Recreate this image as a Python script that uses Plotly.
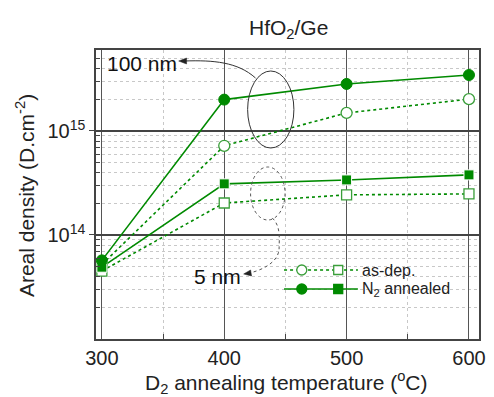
import plotly.graph_objects as go

temps = [300, 400, 500, 600]
asdep_100nm = [5.2e13, 7.2e14, 1.49e15, 2.02e15]
n2_100nm = [5.7e13, 2.0e15, 2.83e15, 3.45e15]
asdep_5nm = [4.5e13, 2.03e14, 2.43e14, 2.48e14]
n2_5nm = [4.9e13, 3.1e14, 3.38e14, 3.78e14]

x_ticks = [300, 400, 500, 600]
x_minor = [350, 450, 550]
y_major = [1e14, 1e15]
y_major_text = ["10<sup>14</sup>", "10<sup>15</sup>"]
y_minor = [m * 10**e for e in (13, 14, 15) for m in range(2, 10) if m * 10**e < 6e15]

GREEN = "#008a00"
LGREEN = "#3a9e3a"
FONT = "Arial, Liberation Sans, sans-serif"

W, H = 494, 397
L, R, T, B = 96, 485, 50, 339


def px(x):
    return (x - L) / (R - L)


def py(y):
    return (B - y) / (B - T)


fig = go.Figure()
fig.add_trace(go.Scatter(x=temps, y=asdep_100nm, mode="lines+markers",
                         line=dict(color=GREEN, width=1.6, dash="3px,3px"),
                         marker=dict(symbol="circle", size=11, color="white",
                                     line=dict(color=LGREEN, width=1.3)),
                         showlegend=False))
fig.add_trace(go.Scatter(x=temps, y=asdep_5nm, mode="lines+markers",
                         line=dict(color=GREEN, width=1.6, dash="3px,3px"),
                         marker=dict(symbol="square", size=10, color="white",
                                     line=dict(color=LGREEN, width=1.3)),
                         showlegend=False))
fig.add_trace(go.Scatter(x=temps, y=n2_5nm, mode="lines+markers",
                         line=dict(color=GREEN, width=1.6),
                         marker=dict(symbol="square", size=10, color=GREEN,
                                     line=dict(color="white", width=1)),
                         showlegend=False))
fig.add_trace(go.Scatter(x=temps, y=n2_100nm, mode="lines+markers",
                         line=dict(color=GREEN, width=1.6),
                         marker=dict(symbol="circle", size=11, color=GREEN,
                                     line=dict(color=GREEN, width=1)),
                         showlegend=False))

shapes = []
# ellipses
shapes.append(dict(type="circle", xref="paper", yref="paper",
                   x0=px(250), x1=px(297), y0=py(148), y1=py(71),
                   line=dict(color="#333", width=1)))
shapes.append(dict(type="circle", xref="paper", yref="paper",
                   x0=px(253), x1=px(288), y0=py(220), y1=py(167),
                   line=dict(color="#555", width=1, dash="dot")))


def pth(cmds):
    out = []
    for c in cmds:
        if isinstance(c, str):
            out.append(c)
        else:
            out.append(f"{px(c[0]):.4f},{py(c[1]):.4f}")
    return " ".join(out)


# 100 nm connector
shapes.append(dict(type="path", xref="paper", yref="paper",
                   path=pth(["M", (258, 78), "C", (240, 62), (215, 60), (186, 61)]),
                   line=dict(color="#333", width=1)))
shapes.append(dict(type="path", xref="paper", yref="paper",
                   path=pth(["M", (180, 61), "L", (188, 58), "L", (188, 64), "Z"]),
                   fillcolor="#222", line=dict(color="#222", width=0.5)))
# 5 nm connector
shapes.append(dict(type="path", xref="paper", yref="paper",
                   path=pth(["M", (275, 218), "C", (284, 226), (282, 240), (282, 248),
                             "C", (282, 262), (265, 270), (252, 273)]),
                   line=dict(color="#555", width=1, dash="dot")))
shapes.append(dict(type="path", xref="paper", yref="paper",
                   path=pth(["M", (246, 274), "L", (253, 270), "L", (254, 276), "Z"]),
                   fillcolor="#222", line=dict(color="#222", width=0.5)))

# legend samples
leg_rows = [(270, "dot", "white", LGREEN, "as-dep."), (289, "solid", GREEN, GREEN, "N<sub>2</sub> annealed")]
for yy, dash, fill, edge, label in leg_rows:
    shapes.append(dict(type="line", xref="paper", yref="paper",
                       x0=px(287), x1=px(362), y0=py(yy), y1=py(yy),
                       line=dict(color=GREEN, width=1.6, dash=dash)))
    shapes.append(dict(type="circle", xref="paper", yref="paper",
                       xsizemode="pixel", ysizemode="pixel",
                       xanchor=px(305), yanchor=py(yy),
                       x0=-5, x1=5, y0=-5, y1=5,
                       fillcolor=fill, line=dict(color=edge, width=1.3)))
    shapes.append(dict(type="rect", xref="paper", yref="paper",
                       xsizemode="pixel", ysizemode="pixel",
                       xanchor=px(342), yanchor=py(yy),
                       x0=-4.5, x1=4.5, y0=-4.5, y1=4.5,
                       fillcolor=fill, line=dict(color=edge, width=1.3)))

annotations = [
    dict(text="HfO<sub>2</sub>/Ge", x=px(292), y=py(29), xref="paper", yref="paper",
         xanchor="center", yanchor="middle",
         showarrow=False, font=dict(size=21, color="#222", family=FONT)),
    dict(text="Areal density (D.cm<sup>-2</sup>)", x=px(24), y=py(196), xref="paper", yref="paper",
         xanchor="center", yanchor="middle",
         textangle=-90, showarrow=False, font=dict(size=21, color="#222", family=FONT)),
    dict(text="D<sub>2</sub> annealing temperature (<sup>o</sup>C)", x=px(289), y=py(382),
         xref="paper", yref="paper", showarrow=False, xanchor="center", yanchor="middle",
         font=dict(size=21, color="#222", family=FONT)),
    dict(text="100 nm", x=px(105), y=py(64), xref="paper", yref="paper", xanchor="left",
         yanchor="middle", showarrow=False, font=dict(size=21, color="#111", family=FONT)),
    dict(text="5 nm", x=px(193), y=py(276), xref="paper", yref="paper", xanchor="left",
         yanchor="middle", showarrow=False, font=dict(size=21, color="#111", family=FONT)),
]
for yy, dash, fill, edge, label in leg_rows:
    annotations.append(dict(text=label, x=px(364), y=py(yy), xref="paper", yref="paper",
                            xanchor="left", yanchor="middle", showarrow=False,
                            font=dict(size=16, color="#222", family=FONT)))

fig.update_layout(
    width=W, height=H,
    margin=dict(l=L, r=W - R, t=T, b=H - B),
    paper_bgcolor="white", plot_bgcolor="white",
    font=dict(family=FONT, size=20, color="#222"),
    shapes=shapes, annotations=annotations,
    xaxis=dict(range=[295.2, 608.2], tickvals=x_ticks, ticks="", showgrid=True,
               gridcolor="#555", gridwidth=1.3, zeroline=False,
               showline=True, linecolor="#444", linewidth=1.5, mirror=True,
               tickfont=dict(size=20, family=FONT),
               minor=dict(tickvals=x_minor, ticks="inside", ticklen=5, tickcolor="#444",
                          showgrid=True, gridcolor="#c8c8c8", griddash="dot", gridwidth=1)),
    yaxis=dict(type="log", range=[13, 15.778], tickvals=y_major, ticktext=y_major_text,
               ticks="outside", ticklen=5, tickcolor="#444", showgrid=True,
               gridcolor="#444", gridwidth=1.5, zeroline=False,
               showline=True, linecolor="#444", linewidth=1.5, mirror=True,
               tickfont=dict(size=20, family=FONT),
               minor=dict(tickvals=y_minor, ticks="inside", ticklen=4, tickcolor="#444",
                          showgrid=True, gridcolor="#c8c8c8", griddash="dot", gridwidth=1)),
)

fig.write_html("out.html")
